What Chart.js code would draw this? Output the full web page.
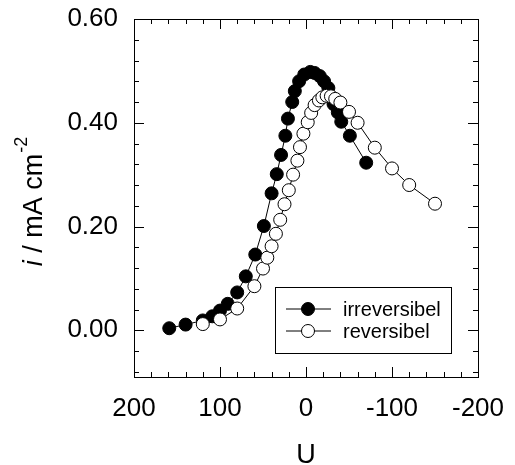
<!DOCTYPE html>
<html>
<head>
<meta charset="utf-8">
<script src="https://cdn.jsdelivr.net/npm/chart.js@4.4.0/dist/chart.umd.min.js"></script>
<style>
html,body{margin:0;padding:0;background:#fff;}
</style>
</head>
<body>
<canvas id="myCanvas" width="515" height="465"></canvas>
<script>
// irreversibel (filled circles)
var irrU = [159, 140, 120, 109, 100, 91, 80, 70, 59, 49, 40, 34, 29, 24, 21, 16, 13, 8, 2, -5, -10, -16, -21, -26, -32, -37, -41, -51, -70];
var irrI = [0.004, 0.011, 0.019, 0.027, 0.038, 0.051, 0.073, 0.104, 0.146, 0.201, 0.264, 0.301, 0.338, 0.375, 0.408, 0.440, 0.461, 0.480, 0.493, 0.498, 0.496, 0.490, 0.480, 0.467, 0.436, 0.420, 0.402, 0.375, 0.323];
// reversibel (open circles)
var revU = [120, 100, 80, 60, 50, 45, 40, 35, 30, 25, 20, 15, 10, 7, 3, -2, -6, -10, -15, -19, -24, -29, -34, -40, -50, -60, -80, -100, -120, -150];
var revI = [0.012, 0.021, 0.042, 0.085, 0.119, 0.140, 0.162, 0.186, 0.213, 0.243, 0.270, 0.300, 0.327, 0.353, 0.379, 0.401, 0.419, 0.434, 0.443, 0.449, 0.452, 0.451, 0.446, 0.439, 0.421, 0.400, 0.352, 0.312, 0.280, 0.244];

var seriesNames = ["irreversibel", "reversibel"];
var xTicks = [200, 100, 0, -100, -200];
var yTicks = [0, 0.2, 0.4, 0.6];
var xMinorStep = 20;
var yMinorStep = 0.04;

var FONT = "'Liberation Sans', Arial, sans-serif";

function pts(xs, ys) {
  return xs.map(function(x, k){ return {x: x, y: ys[k]}; });
}

// frame, inward ticks, axis titles, legend
var decor = {
  id: "decor",
  afterDraw: function(chart) {
    var ctx = chart.ctx;
    var a = chart.chartArea;
    var xs = chart.scales.x, ys = chart.scales.y;
    ctx.save();
    ctx.strokeStyle = "#000";
    ctx.lineWidth = 1;
    ctx.strokeRect(Math.round(a.left) + 0.5, Math.round(a.top) + 0.5, Math.round(a.right - a.left), Math.round(a.bottom - a.top));

    ctx.beginPath();
    for (var v = -200; v <= 200; v += xMinorStep) {
      var len = (v % 100 === 0) ? 10 : 5;
      var px = Math.round(xs.getPixelForValue(v)) + 0.5;
      ctx.moveTo(px, a.bottom); ctx.lineTo(px, a.bottom - len);
      ctx.moveTo(px, a.top); ctx.lineTo(px, a.top + len);
    }
    for (var k = -2; k <= 15; k++) {
      var len2 = (k % 5 === 0) ? 10 : 5;
      var py = Math.round(ys.getPixelForValue(k * yMinorStep)) + 0.5;
      ctx.moveTo(a.left, py); ctx.lineTo(a.left + len2, py);
      ctx.moveTo(a.right, py); ctx.lineTo(a.right - len2, py);
    }
    ctx.stroke();

    // x title
    ctx.fillStyle = "#000";
    ctx.font = "27px " + FONT;
    ctx.textAlign = "center";
    ctx.textBaseline = "alphabetic";
    ctx.fillText("U", (a.left + a.right) / 2, 463);

    // y title: i / mA cm^-2
    ctx.save();
    ctx.translate(41.5, 202);
    ctx.rotate(-Math.PI / 2);
    ctx.textAlign = "left";
    var f1 = "italic 27px " + FONT, f2 = "27px " + FONT, f3 = "18px " + FONT;
    ctx.font = f1; var w1 = ctx.measureText("i").width;
    ctx.font = f2; var w2 = ctx.measureText(" / mA cm").width;
    ctx.font = f3; var w3 = ctx.measureText("-2").width;
    var x0 = -(w1 + w2 + w3) / 2;
    ctx.font = f1; ctx.fillText("i", x0, 0);
    ctx.font = f2; ctx.fillText(" / mA cm", x0 + w1, 0);
    ctx.font = f3; ctx.fillText("-2", x0 + w1 + w2 + 1, -15);
    ctx.restore();

    // legend
    var bx = a.right - 203, by = a.bottom - 90, bw = 176, bh = 66;
    ctx.fillStyle = "#fff";
    ctx.fillRect(bx, by, bw, bh);
    ctx.strokeRect(bx + 0.5, by + 0.5, bw, bh);
    ctx.font = "20px " + FONT;
    ctx.textAlign = "left";
    ctx.textBaseline = "middle";
    chart.data.datasets.forEach(function(ds, k) {
      var ly = by + 22 + k * 22;
      ctx.strokeStyle = "#000";
      ctx.lineWidth = 1;
      ctx.beginPath();
      ctx.moveTo(bx + 11, ly); ctx.lineTo(bx + 56, ly);
      ctx.stroke();
      ctx.beginPath();
      ctx.arc(bx + 33, ly, 6.5, 0, Math.PI * 2);
      ctx.fillStyle = ds.backgroundColor;
      ctx.fill();
      ctx.stroke();
      ctx.fillStyle = "#000";
      ctx.fillText(ds.label, bx + 68, ly + 1);
    });
    ctx.restore();
  }
};

var myChart = document.getElementById("myCanvas").getContext("2d");
var chart = new Chart(myChart, {
  type: "scatter",
  data: {
    datasets: [
      {
        label: seriesNames[0],
        data: pts(irrU, irrI),
        showLine: true,
        borderColor: "#000",
        borderWidth: 1,
        backgroundColor: "#000",
        pointBackgroundColor: "#000",
        pointBorderColor: "#000",
        pointBorderWidth: 1,
        pointRadius: 6.5,
        order: 1
      },
      {
        label: seriesNames[1],
        data: pts(revU, revI),
        showLine: true,
        borderColor: "#000",
        borderWidth: 1,
        backgroundColor: "#fff",
        pointBackgroundColor: "#fff",
        pointBorderColor: "#000",
        pointBorderWidth: 1,
        pointRadius: 6.5,
        order: 0
      }
    ]
  },
  options: {
    responsive: false,
    animation: false,
    devicePixelRatio: 1,
    layout: { padding: { left: 0, top: 19, right: 37, bottom: 0 } },
    plugins: { legend: { display: false }, tooltip: { enabled: false } },
    scales: {
      x: {
        type: "linear",
        min: -200, max: 200, reverse: true,
        grid: { display: false, drawTicks: false },
        border: { display: false },
        afterBuildTicks: function(s){ s.ticks = xTicks.map(function(v){ return {value: v}; }); },
        afterFit: function(s){ s.height = 88; s.paddingLeft = 0; s.paddingRight = 0; },
        ticks: {
          padding: 16, color: "#000", maxRotation: 0,
          font: { family: FONT, size: 26 },
          callback: function(v){ return String(v); }
        }
      },
      y: {
        type: "linear",
        min: -0.09, max: 0.6,
        grid: { display: false, drawTicks: false },
        border: { display: false },
        afterBuildTicks: function(s){ s.ticks = yTicks.map(function(v){ return {value: v}; }); },
        afterFit: function(s){ s.width = 134; s.paddingTop = 0; s.paddingBottom = 0; },
        ticks: {
          padding: 16, color: "#000",
          font: { family: FONT, size: 26 },
          callback: function(v){ return v.toFixed(2); }
        }
      }
    }
  },
  plugins: [decor]
});
</script>
</body>
</html>
